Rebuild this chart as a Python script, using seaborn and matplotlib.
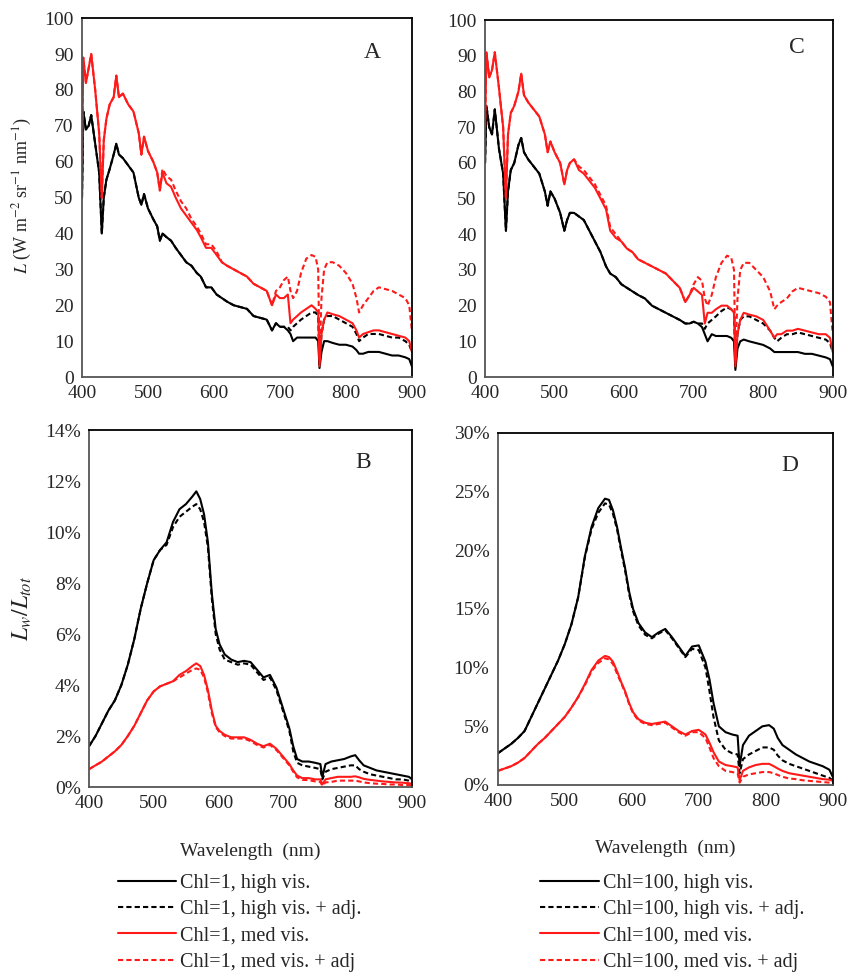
import matplotlib
matplotlib.use("Agg")
import matplotlib.pyplot as plt
import seaborn as sns
from matplotlib.ticker import PercentFormatter

# wavelength grids (nm)
wl_top = [400, 402, 406, 410, 414, 420, 426, 430, 433, 437, 442, 448, 452, 456, 462, 470, 478, 486, 490, 494,
          500, 508, 514, 518, 522, 528, 535, 542, 550, 558, 566, 574, 580, 588, 596, 604, 612, 620, 630, 640,
          650, 660, 670, 680, 688, 694, 700, 706, 712, 716, 720, 726, 732, 740, 748, 754, 758, 760, 763, 767,
          772, 780, 790, 800, 810, 816, 820, 826, 834, 842, 850, 860, 870, 880, 890, 896, 900]

wl_bot = [400, 410, 420, 430, 440, 450, 460, 470, 480, 490, 500, 510, 520, 530, 540, 550, 560, 566, 572, 578,
          584, 590, 596, 602, 610, 620, 630, 640, 650, 660, 670, 680, 690, 700, 710, 716, 722, 730, 740, 750,
          758, 761, 766, 775, 785, 795, 805, 812, 818, 825, 835, 845, 855, 865, 875, 885, 895, 900]

# Panel A: radiance, Chl=1
a_high = [50, 74, 69, 70, 73, 65, 57, 40, 50, 55, 58, 62, 65, 62, 61, 59, 57, 50, 48, 51,
          47, 44, 42, 38, 40, 39, 38, 36, 34, 32, 31, 29, 28, 25, 25, 23, 22, 21, 20, 19.5,
          19, 17, 16.5, 16, 13, 15, 14, 14, 13, 12, 10, 11, 11, 11, 11, 11, 10, 2.5, 7, 10,
          10, 9.5, 9, 9, 8.5, 7.5, 6.5, 6.5, 7, 7, 7, 6.5, 6, 6, 5.5, 5, 3]
a_high_adj = [50, 74, 69, 70, 73, 65, 57, 40, 50, 55, 58, 62, 65, 62, 61, 59, 57, 50, 48, 51,
              47, 44, 42, 38, 40, 39, 38, 36, 34, 32, 31, 29, 28, 25, 25, 23, 22, 21, 20, 19.5,
              19, 17, 16.5, 16, 13, 15, 14, 14, 14, 13, 14, 15, 16, 17, 18, 18, 17, 3, 12, 16,
              17, 17, 16, 15, 14, 12, 10, 11, 12, 12, 12, 11.5, 11, 11, 10, 9, 7]
a_med = [60, 89, 82, 86, 90, 80, 68, 50, 66, 72, 76, 78, 84, 78, 79, 76, 74, 68, 62, 67,
         63, 60, 57, 52, 57, 54, 53, 50, 47, 45, 43, 41, 39, 36, 36, 34, 32, 31, 30, 29,
         28, 26, 25, 24, 20, 23, 22, 22, 23, 15, 16, 17, 18, 19, 20, 19, 18, 3, 12, 16,
         18, 17.5, 17, 16, 15, 13, 11, 12, 12.5, 13, 13, 12.5, 12, 11.5, 11, 10, 7]
a_med_adj = [60, 89, 82, 86, 90, 80, 68, 50, 66, 72, 76, 78, 84, 78, 79, 76, 74, 68, 62, 67,
             63, 60, 57, 52, 58, 56, 55, 52, 49, 47, 44, 42, 40, 37, 37, 35, 32, 31, 30, 29,
             28, 26, 25, 24, 20, 24, 25, 27, 28, 24, 22, 24, 29, 33, 34, 33.5, 30, 5, 22, 30,
             32, 32, 31, 29, 26, 22, 18, 20, 22, 24, 25, 24.5, 24, 23, 22, 20, 13]

# Panel C: radiance, Chl=100
c_high = [60, 76, 70, 68, 75, 64, 57, 41, 52, 58, 60, 65, 67, 63, 61, 59, 57, 52, 48, 52,
          50, 46, 41, 44, 46, 46, 45, 44, 41, 38, 35, 31, 29, 28, 26, 25, 24, 23, 22, 20,
          19, 18, 17, 16, 15, 15, 15.5, 15, 14, 12, 10, 12, 11.5, 11.5, 11.5, 11, 10, 2, 8, 10,
          10.5, 10, 9.5, 9, 8, 7, 7, 7, 7, 7, 7, 6.5, 6.5, 6, 5.5, 5, 3]
c_high_adj = [60, 76, 70, 68, 75, 64, 57, 41, 52, 58, 60, 65, 67, 63, 61, 59, 57, 52, 48, 52,
              50, 46, 41, 44, 46, 46, 45, 44, 41, 38, 35, 31, 29, 28, 26, 25, 24, 23, 22, 20,
              19, 18, 17, 16, 15, 15, 15.5, 15, 15, 13.5, 15, 16, 17, 18.5, 19.5, 19, 18, 3, 12, 16,
              17, 17, 16, 15, 13, 11, 10, 11, 12, 12, 12.5, 12, 11.5, 11, 10.5, 9.5, 7]
c_med = [70, 91, 84, 86, 91, 81, 70, 50, 68, 74, 76, 80, 85, 79, 77, 75, 73, 68, 63, 66,
         63, 60, 54, 58, 60, 61, 58, 57, 55, 53, 50, 47, 41, 39, 38, 36, 35, 33, 32, 31,
         30, 29, 27, 25, 21, 23, 25, 24, 23, 15, 18, 18, 19, 20, 20, 19, 18, 3, 12, 16,
         18, 17.5, 17, 16, 13, 11, 12, 12, 13, 13, 13.5, 13, 12.5, 12, 12, 11, 7]
c_med_adj = [70, 91, 84, 86, 91, 81, 70, 50, 68, 74, 76, 80, 85, 79, 77, 75, 73, 68, 63, 66,
             63, 60, 54, 58, 60, 61, 59, 58, 56, 54, 51, 48, 42, 40, 38, 36, 35, 33, 32, 31,
             30, 29, 27, 25, 21, 23, 26, 28, 27, 22, 20, 23, 28, 32, 34, 33.5, 30, 5, 22, 30,
             32, 32, 30, 28, 24, 19, 20, 21, 22, 24, 25, 24.5, 24, 23.5, 22.5, 21, 12]

# Panel B: Lw/Ltot (%), Chl=1
b_high = [1.6, 2.0, 2.5, 3.0, 3.4, 4.0, 4.8, 5.8, 7.0, 8.0, 8.9, 9.3, 9.6, 10.4, 10.9, 11.1, 11.4, 11.6, 11.3, 10.7,
          9.6, 7.6, 6.2, 5.6, 5.2, 5.0, 4.9, 4.95, 4.9, 4.6, 4.3, 4.4, 3.9, 3.1, 2.3, 1.6, 1.1, 1.0, 1.0, 0.95,
          0.9, 0.4, 0.9, 1.0, 1.05, 1.1, 1.2, 1.25, 1.05, 0.85, 0.75, 0.65, 0.6, 0.55, 0.5, 0.45, 0.4, 0.3]
b_high_adj = [1.6, 2.0, 2.5, 3.0, 3.4, 4.0, 4.8, 5.8, 7.0, 8.0, 8.9, 9.3, 9.5, 10.2, 10.6, 10.8, 11.0, 11.1, 10.9, 10.4,
              9.4, 7.4, 6.0, 5.4, 5.0, 4.9, 4.8, 4.85, 4.8, 4.5, 4.2, 4.3, 3.8, 3.0, 2.2, 1.4, 0.95, 0.85, 0.8, 0.75,
              0.7, 0.3, 0.6, 0.7, 0.75, 0.8, 0.85, 0.85, 0.7, 0.6, 0.5, 0.45, 0.4, 0.35, 0.3, 0.3, 0.25, 0.2]
b_med = [0.7, 0.85, 1.0, 1.2, 1.4, 1.65, 2.0, 2.4, 2.9, 3.4, 3.75, 3.95, 4.05, 4.15, 4.4, 4.55, 4.75, 4.85, 4.75, 4.4,
         3.8, 3.0, 2.4, 2.2, 2.05, 1.95, 1.95, 1.95, 1.85, 1.7, 1.6, 1.7, 1.5, 1.2, 0.9, 0.65, 0.45, 0.35, 0.35, 0.3,
         0.3, 0.1, 0.3, 0.35, 0.4, 0.4, 0.4, 0.42, 0.38, 0.32, 0.28, 0.25, 0.22, 0.2, 0.18, 0.17, 0.15, 0.12]
b_med_adj = [0.7, 0.85, 1.0, 1.2, 1.4, 1.65, 2.0, 2.4, 2.9, 3.4, 3.75, 3.95, 4.05, 4.15, 4.3, 4.45, 4.6, 4.65, 4.6, 4.3,
             3.7, 2.9, 2.35, 2.15, 2.0, 1.9, 1.9, 1.9, 1.8, 1.65, 1.55, 1.65, 1.45, 1.15, 0.85, 0.6, 0.38, 0.28, 0.27, 0.22,
             0.2, 0.05, 0.18, 0.2, 0.25, 0.25, 0.25, 0.25, 0.22, 0.18, 0.15, 0.13, 0.12, 0.1, 0.1, 0.08, 0.08, 0.06]

# Panel D: Lw/Ltot (%), Chl=100
d_high = [2.7, 3.1, 3.5, 4.0, 4.6, 5.8, 7.0, 8.2, 9.4, 10.6, 12.0, 13.7, 16.0, 19.5, 22.0, 23.6, 24.4, 24.3, 23.4, 22.0,
          20.2, 18.5, 16.5, 15.0, 13.8, 13.0, 12.6, 13.0, 13.3, 12.6, 11.8, 11.0, 11.8, 11.9, 10.5, 9.0, 7.0, 5.0, 4.5, 4.3,
          4.2, 1.6, 3.4, 4.2, 4.6, 5.0, 5.1, 4.8, 4.0, 3.4, 3.0, 2.6, 2.3, 2.0, 1.8, 1.6, 1.3, 0.7]
d_high_adj = [2.7, 3.1, 3.5, 4.0, 4.6, 5.8, 7.0, 8.2, 9.4, 10.6, 12.0, 13.7, 16.0, 19.4, 21.8, 23.2, 24.0, 23.9, 23.1, 21.8,
              20.0, 18.3, 16.3, 14.8, 13.6, 12.8, 12.5, 12.9, 13.2, 12.5, 11.7, 10.9, 11.6, 11.5, 10.0, 8.0, 5.8, 3.8, 3.0, 2.7,
              2.6, 1.0, 2.2, 2.6, 2.9, 3.2, 3.2, 3.0, 2.5, 2.1, 1.8, 1.6, 1.4, 1.2, 1.0, 0.8, 0.6, 0.4]
d_med = [1.2, 1.4, 1.6, 1.9, 2.3, 2.9, 3.5, 4.0, 4.6, 5.2, 5.8, 6.6, 7.5, 8.6, 9.8, 10.6, 11.0, 10.9, 10.5, 9.7,
         8.8, 8.0, 7.0, 6.2, 5.6, 5.3, 5.2, 5.3, 5.4, 5.0, 4.6, 4.3, 4.6, 4.7, 4.3, 3.6, 2.8, 2.0, 1.7, 1.6,
         1.5, 0.4, 1.2, 1.5, 1.7, 1.8, 1.8, 1.6, 1.4, 1.2, 1.0, 0.9, 0.8, 0.7, 0.6, 0.5, 0.45, 0.35]
d_med_adj = [1.2, 1.4, 1.6, 1.9, 2.3, 2.9, 3.5, 4.0, 4.6, 5.2, 5.8, 6.6, 7.5, 8.5, 9.7, 10.4, 10.8, 10.7, 10.3, 9.5,
             8.7, 7.9, 6.9, 6.1, 5.5, 5.2, 5.1, 5.2, 5.3, 4.9, 4.5, 4.2, 4.5, 4.5, 4.0, 3.2, 2.3, 1.6, 1.2, 1.1,
             1.0, 0.2, 0.7, 0.9, 1.0, 1.1, 1.1, 1.0, 0.85, 0.7, 0.55, 0.5, 0.4, 0.35, 0.3, 0.25, 0.2, 0.15]

labels_b = ["Chl=1, high vis.", "Chl=1, high vis. + adj.", "Chl=1, med vis.", "Chl=1, med vis. + adj"]
labels_d = ["Chl=100, high vis.", "Chl=100, high vis. + adj.", "Chl=100, med vis.", "Chl=100, med vis. + adj"]

sns.set_style("white")
plt.rcParams['font.family'] = ['Liberation Serif', 'DejaVu Serif']
plt.rcParams['mathtext.fontset'] = 'stix'

RED = "#ff1a1a"
DASH = (0, (2.5, 1.5))
styles = [("black", "-"), ("black", DASH), (RED, "-"), (RED, DASH)]

fig = plt.figure(figsize=(8.48, 9.75), dpi=100)
axA = fig.add_axes([0.0967, 0.6133, 0.389, 0.368])
axC = fig.add_axes([0.572, 0.6133, 0.410, 0.366])
axB = fig.add_axes([0.105, 0.1928, 0.381, 0.366])
axD = fig.add_axes([0.587, 0.1949, 0.395, 0.361])


def draw(ax, wl, series, labels):
    for vals, (col, ls), lab in zip(series, styles, labels):
        sns.lineplot(x=wl, y=vals, ax=ax, color=col, linestyle=ls, linewidth=1.5,
                     label=lab, estimator=None, sort=False, legend=False)


draw(axA, wl_top, [a_high, a_high_adj, a_med, a_med_adj], labels_b)
draw(axC, wl_top, [c_high, c_high_adj, c_med, c_med_adj], labels_d)
draw(axB, wl_bot, [b_high, b_high_adj, b_med, b_med_adj], labels_b)
draw(axD, wl_bot, [d_high, d_high_adj, d_med, d_med_adj], labels_d)

for ax in (axA, axC, axB, axD):
    ax.set_xlim(400, 900)
    ax.set_xticks(range(400, 901, 100))
    ax.tick_params(labelsize=14, direction="in", length=4, width=1, color="#555555", pad=6)
    for s in ("top", "right"):
        ax.spines[s].set_color("black")
        ax.spines[s].set_linewidth(1.3)
    for s in ("left", "bottom"):
        ax.spines[s].set_color("#555555")
        ax.spines[s].set_linewidth(1.3)
    ax.set_xlabel("")
    ax.set_ylabel("")

for ax in (axA, axC):
    ax.set_ylim(0, 100)
    ax.set_yticks(range(0, 101, 10))

axB.set_ylim(0, 14)
axB.set_yticks(range(0, 15, 2))
axD.set_ylim(0, 30)
axD.set_yticks(range(0, 31, 5))
for ax in (axB, axD):
    ax.yaxis.set_major_formatter(PercentFormatter(xmax=100, decimals=0))

axA.set_ylabel(r"$L$ (W m$^{-2}$ sr$^{-1}$ nm$^{-1}$)", fontsize=13)
axA.yaxis.set_label_coords(-0.145, 0.505)
axB.set_ylabel(r"$L_w/L_{tot}$", fontsize=17)
axB.yaxis.set_label_coords(-0.17, 0.50)
for ax in (axB, axD):
    ax.set_xlabel("Wavelength  (nm)", fontsize=14)
    ax.xaxis.set_label_coords(0.5, -0.155)

for ax, letter, x, y in [(axA, "A", 0.879, 0.905), (axC, "C", 0.897, 0.924),
                         (axB, "B", 0.848, 0.910), (axD, "D", 0.872, 0.909)]:
    ax.text(x, y, letter, transform=ax.transAxes, fontsize=17, ha="center", va="center")

for ax, x0 in ((axB, 0.139), (axD, 0.637)):
    handles = ax.get_lines()[:4]
    ax.legend(handles=handles, labels=[h.get_label() for h in handles], loc="upper left",
              bbox_to_anchor=(x0, 0.104), bbox_transform=fig.transFigure, frameon=False,
              fontsize=14.5, handlelength=2.9, handletextpad=0.2, labelspacing=0.36,
              borderpad=0, borderaxespad=0)

fig.savefig("out.png", dpi=100)
